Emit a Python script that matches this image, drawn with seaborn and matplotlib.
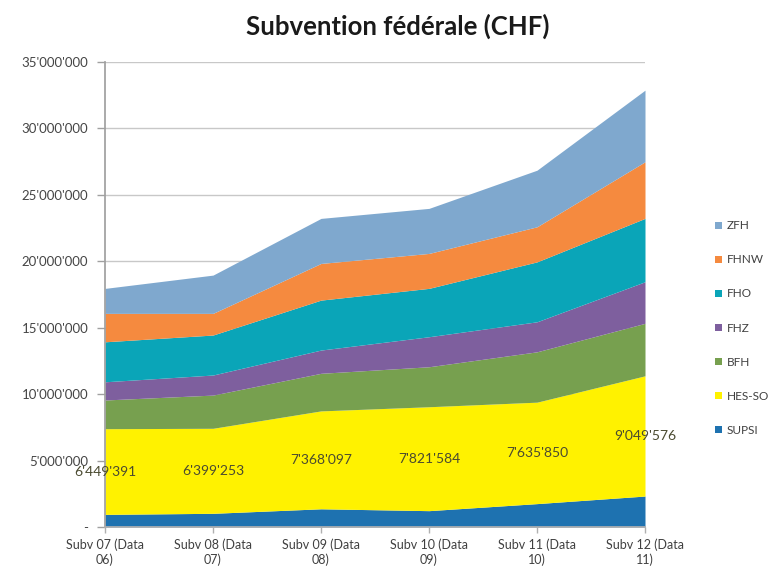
import matplotlib
matplotlib.use("Agg")
import matplotlib.pyplot as plt
from matplotlib.patches import Patch
from matplotlib.ticker import FuncFormatter
import seaborn as sns

categories = ["Subv 07 (Data\n06)", "Subv 08 (Data\n07)", "Subv 09 (Data\n08)",
              "Subv 10 (Data\n09)", "Subv 11 (Data\n10)", "Subv 12 (Data\n11)"]
supsi = [950000, 1030000, 1370000, 1230000, 1760000, 2330000]
hes_so = [6449391, 6399253, 7368097, 7821584, 7635850, 9049576]
bfh = [2160000, 2500000, 2830000, 3010000, 3790000, 3950000]
fhz = [1370000, 1510000, 1750000, 2260000, 2260000, 3130000]
fho = [3010000, 3010000, 3760000, 3640000, 4510000, 4770000]
fhnw = [2140000, 1630000, 2760000, 2630000, 2640000, 4260000]
zfh = [1880000, 2880000, 3390000, 3390000, 4260000, 5390000]

series_names = ["SUPSI", "HES-SO", "BFH", "FHZ", "FHO", "FHNW", "ZFH"]
series_values = [supsi, hes_so, bfh, fhz, fho, fhnw, zfh]
colors = ["#1E72B0", "#FFF200", "#77A04F", "#7E5F9E", "#0AA5B8", "#F58A3F", "#7FA8CE"]
y_ticks = [0, 5000000, 10000000, 15000000, 20000000, 25000000, 30000000, 35000000]

sns.set_theme(style="white")
plt.rcParams["font.family"] = ["Lato", "DejaVu Sans"]

fig = plt.figure(figsize=(7.8, 5.81), dpi=100)
ax = fig.add_axes([105 / 780, 1 - 527 / 581, 540 / 780, 465 / 581])

x = list(range(len(categories)))
ax.stackplot(x, *series_values, colors=colors, linewidth=0, zorder=2)

ax.set_xlim(0, len(categories) - 1)
ax.set_ylim(0, 35000000)
ax.set_yticks(y_ticks)

def fmt(v, pos):
    if v == 0:
        return "-"
    return f"{int(v):,}".replace(",", "'")

ax.yaxis.set_major_formatter(FuncFormatter(fmt))
ax.yaxis.grid(True, color="#C8C8C8", linewidth=1.0, zorder=0)
ax.xaxis.grid(False)
ax.set_axisbelow(True)
ax.set_xticks(x)
ax.set_xticklabels(categories, fontsize=9, color="#404040", linespacing=1.3)
ax.tick_params(axis="y", labelsize=9.5, labelcolor="#454545", length=6,
               color="#A0A0A0", width=1, direction="out", left=True, pad=6)
ax.tick_params(axis="x", length=4, color="#B0B0B0", width=1, direction="out",
               bottom=True, pad=4)
for s in ["top", "right"]:
    ax.spines[s].set_visible(False)
ax.spines["left"].set_color("#A0A0A0")
ax.spines["bottom"].set_color("#B0B0B0")

# Data labels for HES-SO (middle of its band)
for i in x:
    mid = supsi[i] + hes_so[i] / 2
    ax.text(i, mid, f"{hes_so[i]:,}".replace(",", "'"), ha="center", va="center",
            fontsize=10, color="#4A4A30", zorder=5, clip_on=False)

fig.text(398 / 780, 1 - 26 / 581, "Subvention fédérale (CHF)", ha="center", va="center",
         fontsize=18.5, fontweight="bold", color="#1A1A1A")

handles = [Patch(facecolor=colors[i], edgecolor="none", label=series_names[i])
           for i in reversed(range(len(series_names)))]
fig.legend(handles=handles, loc="center left", bbox_to_anchor=(710 / 780, 1 - 328 / 581),
           frameon=False, fontsize=8.5, labelcolor="#404040", handlelength=0.6,
           handleheight=0.6, handletextpad=0.4, labelspacing=1.95, borderaxespad=0)

fig.savefig("out.png", dpi=100, facecolor="white")
